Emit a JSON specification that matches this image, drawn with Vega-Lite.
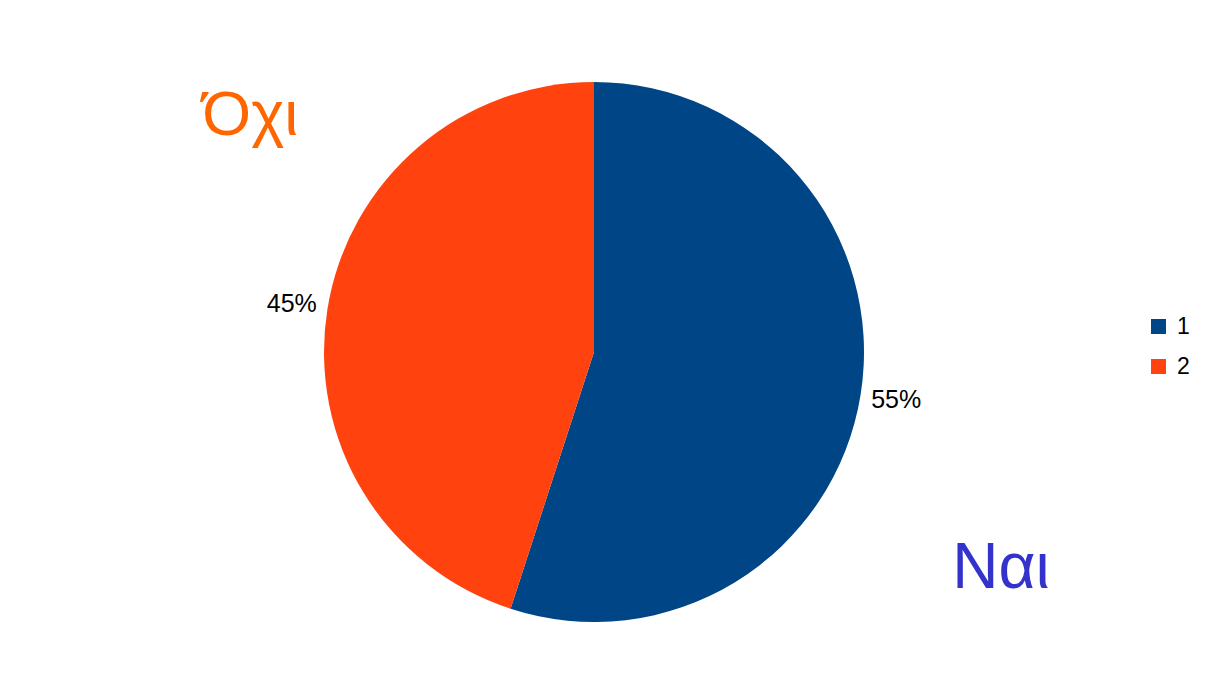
{
  "$schema": "https://vega.github.io/schema/vega-lite/v6.json",
  "autosize": {"type": "none"},
  "width": 1188,
  "height": 646,
  "padding": {"left": 0, "top": 29, "right": 20, "bottom": 0},
  "background": "white",
  "config": {"view": {"stroke": null}, "font": "Liberation Sans"},
  "data": {"values": [
    {"category": "1", "value": 55, "label": "55%", "name": "Ναι"},
    {"category": "2", "value": 45, "label": "45%", "name": "Όχι"}
  ]},
  "resolve": {"scale": {"color": "independent"}},
  "layer": [
    {
      "mark": {"type": "arc", "outerRadius": 270},
      "encoding": {
        "theta": {"field": "value", "type": "quantitative", "stack": true},
        "order": {"field": "category", "type": "ordinal"},
        "color": {
          "field": "category", "type": "nominal",
          "scale": {"domain": ["1", "2"], "range": ["#004586", "#ff420e"]},
          "legend": {
            "title": null, "orient": "none", "legendX": 1147, "legendY": 286,
            "padding": 0, "symbolType": "square", "symbolSize": 225,
            "symbolStrokeWidth": 0, "labelFontSize": 23, "labelFont": "Liberation Sans",
            "labelColor": "#000000", "labelOffset": 7, "rowPadding": 16
          }
        }
      }
    },
    {
      "mark": {"type": "text", "radius": 306, "fontSize": 25, "font": "Liberation Sans", "fill": "#000000", "baseline": "middle", "align": "center"},
      "encoding": {
        "theta": {"field": "value", "type": "quantitative", "stack": true},
        "order": {"field": "category", "type": "ordinal"},
        "text": {"field": "label"}
      }
    },
    {
      "mark": {"type": "text", "radius": 412, "dy": 172, "fontSize": 64, "font": "Liberation Sans", "fill": "#3333cc", "baseline": "alphabetic", "align": "center"},
      "encoding": {
        "theta": {"field": "value", "type": "quantitative", "stack": true},
        "order": {"field": "category", "type": "ordinal"},
        "text": {"condition": {"test": "datum.category == '1'", "field": "name"}, "value": ""}
      }
    },
    {
      "mark": {"type": "text", "radius": 348, "dy": -163, "fontSize": 63, "font": "Liberation Sans", "fill": "#ff6600", "baseline": "alphabetic", "align": "center"},
      "encoding": {
        "theta": {"field": "value", "type": "quantitative", "stack": true},
        "order": {"field": "category", "type": "ordinal"},
        "text": {"condition": {"test": "datum.category == '2'", "field": "name"}, "value": ""}
      }
    }
  ]
}
